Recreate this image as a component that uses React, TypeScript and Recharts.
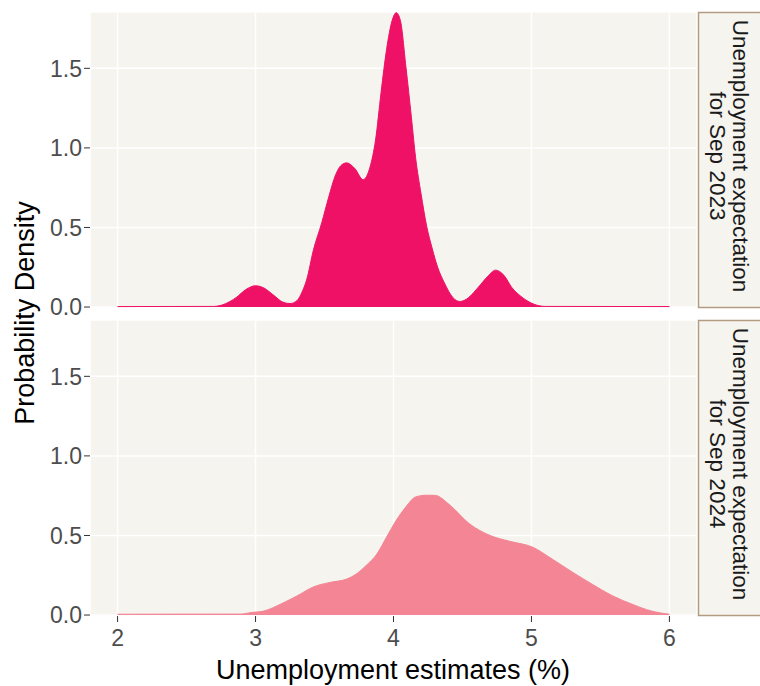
import { AreaChart, Area, XAxis, YAxis, CartesianGrid } from 'recharts'

const xTicks = [2, 3, 4, 5, 6]
const yTicks = [0, 0.5, 1.0, 1.5]

// Sep 2023 expectation density
const sep2023X = [
  2.0, 2.7, 2.78, 2.86, 2.93, 3.0, 3.06, 3.13, 3.2, 3.25, 3.3, 3.34, 3.37, 3.42, 3.48, 3.53, 3.58, 3.62,
  3.66, 3.72, 3.78, 3.83, 3.87, 3.91, 3.95, 3.99, 4.02, 4.05, 4.09, 4.13, 4.16, 4.2, 4.24, 4.28, 4.32,
  4.37, 4.43, 4.48, 4.53, 4.58, 4.63, 4.68, 4.74, 4.8, 4.86, 4.92, 4.96, 5.02, 5.1, 6.0,
]
const sep2023Density = [
  0.003, 0.004, 0.02, 0.06, 0.11, 0.134, 0.12, 0.075, 0.03, 0.022, 0.04, 0.1, 0.17, 0.36, 0.53, 0.69, 0.83, 0.89,
  0.906, 0.87, 0.8, 0.88, 1.05, 1.35, 1.62, 1.8, 1.85, 1.8, 1.51, 1.19, 0.94, 0.71, 0.51, 0.37, 0.25,
  0.15, 0.06, 0.035, 0.05, 0.09, 0.14, 0.19, 0.232, 0.2, 0.12, 0.07, 0.044, 0.017, 0.004, 0.003,
]

// Sep 2024 expectation density
const sep2024X = [
  2.0, 2.9, 2.96, 3.06, 3.18, 3.3, 3.42, 3.54, 3.66, 3.73, 3.8, 3.88, 3.95, 4.02, 4.09, 4.16, 4.24, 4.3,
  4.41, 4.55, 4.7, 4.84, 5.01, 5.15, 5.3, 5.44, 5.59, 5.73, 5.87, 6.0,
]
const sep2024Density = [
  0.005, 0.006, 0.015, 0.025, 0.068, 0.12, 0.177, 0.205, 0.226, 0.258, 0.31, 0.384, 0.49, 0.595, 0.68, 0.742, 0.753, 0.752,
  0.69, 0.574, 0.5, 0.464, 0.426, 0.352, 0.268, 0.194, 0.12, 0.068, 0.025, 0.005,
]

const panelBg = '#F5F4EE'
const tickColor = '#4D4D4D'
const font = '"Liberation Sans", Arial, sans-serif'

const topData = sep2023X.map((x, i) => ({ x, d: sep2023Density[i] }))
const bottomData = sep2024X.map((x, i) => ({ x, d: sep2024Density[i] }))

function Panel({ data, color, showX }: { data: { x: number; d: number }[]; color: string; showX: boolean }) {
  return (
    <AreaChart
      width={700}
      height={showX ? 340 : 324}
      data={data}
      margin={{ top: showX ? 0 : 12, right: 3, bottom: showX ? 0 : 16, left: 0 }}
    >
      <CartesianGrid fill={panelBg} stroke="#FFFFFF" strokeWidth={1.5} />
      <XAxis
        type="number"
        dataKey="x"
        domain={[1.8, 6.2]}
        ticks={xTicks}
        interval={0}
        allowDataOverflow
        hide={!showX}
        height={44}
        axisLine={false}
        tickSize={6}
        tickMargin={8}
        tickLine={{ stroke: '#333333' }}
        tick={{ fill: tickColor, fontSize: 23, fontFamily: font }}
      />
      <YAxis
        type="number"
        domain={[-0.006, 1.854]}
        ticks={yTicks}
        interval={0}
        allowDataOverflow
        width={90}
        axisLine={false}
        tickSize={6}
        tickMargin={2}
        tickLine={{ stroke: '#333333' }}
        tickFormatter={(v: number) => v.toFixed(1)}
        tick={{ fill: tickColor, fontSize: 23, fontFamily: font }}
      />
      <Area
        type="monotone"
        dataKey="d"
        stroke={color}
        strokeWidth={1}
        fill={color}
        fillOpacity={1}
        isAnimationActive={false}
      />
    </AreaChart>
  )
}

function Strip({ top, lines }: { top: number; lines: string[] }) {
  return (
    <g>
      <rect x={698.5} y={top + 0.5} width={70} height={295} fill={panelBg} stroke="#B39C82" strokeWidth={1.5} />
      <text
        transform={`translate(733, ${top + 144}) rotate(90)`}
        textAnchor="middle"
        fontSize={22.5}
        fontFamily={font}
        fill="#1A1A1A"
      >
        {lines[0]}
      </text>
      <text
        transform={`translate(710, ${top + 144}) rotate(90)`}
        textAnchor="middle"
        fontSize={22.5}
        fontFamily={font}
        fill="#1A1A1A"
      >
        {lines[1]}
      </text>
    </g>
  )
}

export default function App() {
  return (
    <div style={{ position: 'absolute', left: 0, top: 0, width: 760, height: 686, background: '#FFFFFF', overflow: 'hidden' }}>
      <div style={{ position: 'absolute', left: 0, top: 320 }}>
        <Panel data={bottomData} color="#F38594" showX />
      </div>
      <div style={{ position: 'absolute', left: 0, top: 0 }}>
        <Panel data={topData} color="#EE1166" showX={false} />
      </div>
      <svg width={760} height={686} style={{ position: 'absolute', left: 0, top: 0, pointerEvents: 'none' }}>
        <Strip top={12} lines={['Unemployment expectation', 'for Sep 2023']} />
        <Strip top={320} lines={['Unemployment expectation', 'for Sep 2024']} />
        <text
          transform="translate(34, 313) rotate(-90)"
          textAnchor="middle"
          fontSize={27}
          fontFamily={font}
          fill="#000000"
        >
          Probability Density
        </text>
        <text x={393} y={679} textAnchor="middle" fontSize={27} fontFamily={font} fill="#000000">
          Unemployment estimates (%)
        </text>
      </svg>
    </div>
  )
}
